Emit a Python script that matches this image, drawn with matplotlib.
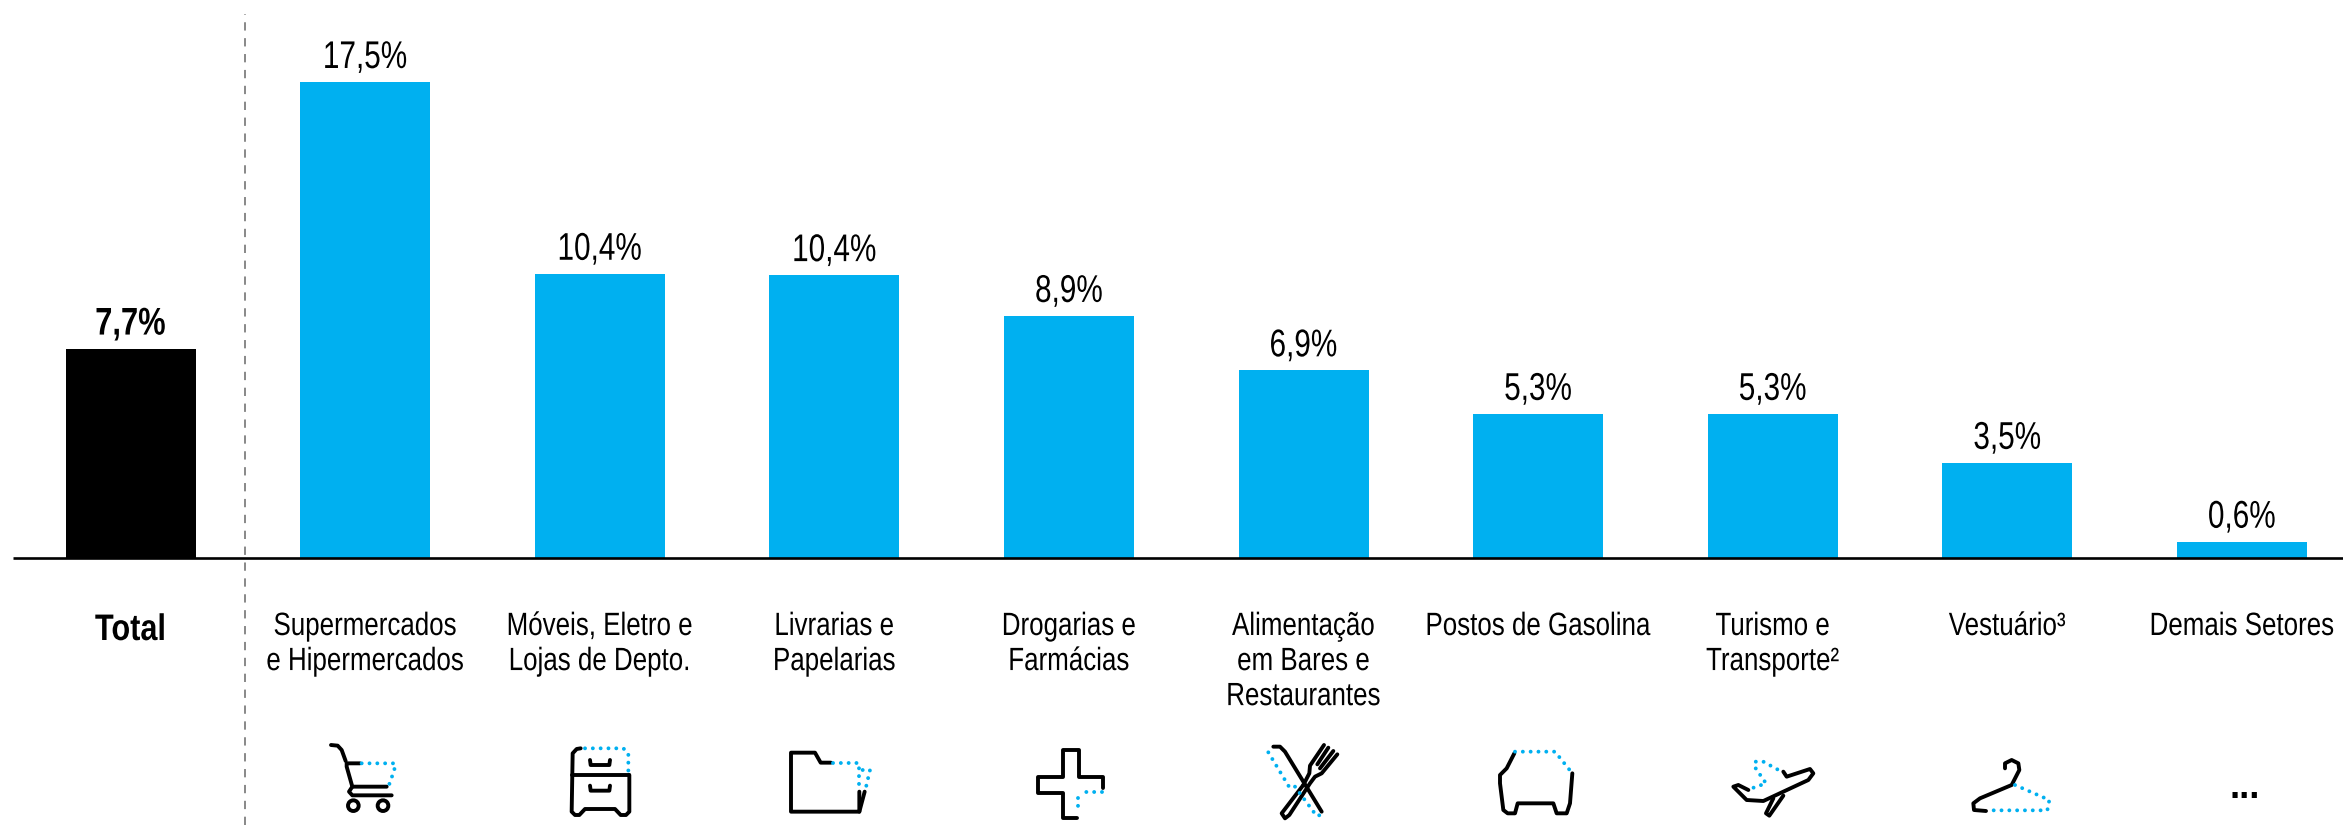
#!/usr/bin/env python3
import matplotlib
matplotlib.use("Agg")
import matplotlib.pyplot as plt
from matplotlib.patches import Circle
from matplotlib.patheffects import AbstractPathEffect
from matplotlib.transforms import Affine2D

plt.rcParams['font.family'] = ['Liberation Sans', 'DejaVu Sans']

categories = ['Total', 'Supermercados\ne Hipermercados', 'Móveis, Eletro e\nLojas de Depto.',
              'Livrarias e\nPapelarias', 'Drogarias e\nFarmácias', 'Alimentação\nem Bares e\nRestaurantes',
              'Postos de Gasolina', 'Turismo e\nTransporte²', 'Vestuário³', 'Demais Setores']
values = [7.7, 17.5, 10.45, 10.4, 8.9, 6.9, 5.3, 5.3, 3.5, 0.6]
value_labels = ['7,7%', '17,5%', '10,4%', '10,4%', '8,9%', '6,9%', '5,3%', '5,3%', '3,5%', '0,6%']

BLUE = '#00B0F0'
W, H = 2343, 825
BASE_Y = 558      # baseline, px from top
PX_PER_PCT = 27.2
X0, STEP = 130.5, 234.6


class Squeeze(AbstractPathEffect):
    # the reference text is condensed Arial; no narrow font is installed, so squeeze around the centre
    def __init__(self, cx, sx):
        super().__init__()
        self.cx, self.sx = cx, sx

    def draw_path(self, renderer, gc, tpath, affine, rgbFace=None):
        squeeze = Affine2D().translate(-self.cx, 0).scale(self.sx, 1).translate(self.cx, 0)
        renderer.draw_path(gc, tpath, affine + squeeze, rgbFace)


fig = plt.figure(figsize=(W / 100, H / 100), dpi=100, facecolor='white')
ax = fig.add_axes([0, 0, 1, 1])
ax.set_xlim(-X0 / STEP, (W - X0) / STEP)
ax.set_ylim((BASE_Y - H) / PX_PER_PCT, BASE_Y / PX_PER_PCT)
ax.axis('off')

colors = ['black'] + [BLUE] * (len(values) - 1)
ax.bar(range(len(values)), values, width=130 / STEP, color=colors, linewidth=0, zorder=2)

# baseline and the dashed divider after Total
ax.plot([(13 - X0) / STEP, (W - X0) / STEP], [0, 0], color='black', lw=1.9, zorder=3, solid_capstyle='butt')
ax.plot([(244.5 - X0) / STEP] * 2, [(BASE_Y - H) / PX_PER_PCT, (BASE_Y - 14) / PX_PER_PCT],
        color='#7f7f7f', lw=1.3, linestyle=(0, (4.6, 4.2)), zorder=1)

for i, (v, lab, cat) in enumerate(zip(values, value_labels, categories)):
    bold = 'bold' if i == 0 else 'normal'
    cx = X0 + i * STEP
    ax.annotate(lab, (i, v), xytext=(0, 14), textcoords='offset pixels', ha='center', va='baseline',
                fontsize=27.8, fontweight=bold, color='black',
                path_effects=[Squeeze(cx, 0.80 if i == 0 else 0.77)])
    ax.annotate(cat, (i, 0), xytext=(0, -55 if i == 0 else -54), textcoords='offset pixels', ha='center', va='top',
                fontsize=26.6 if i == 0 else 23.2, fontweight=bold, color='black', linespacing=1.22,
                path_effects=[Squeeze(cx, 0.83 if i == 0 else 0.805)])

ax.annotate('...', (9, 0), xytext=(3, -240), textcoords='offset pixels', ha='center', va='baseline',
            fontsize=26, fontweight='bold', color='black')

# icons, traced in px of a 3x crop starting at (x0, 735)
icons = [
    (315, [[(48, 30), (68, 32), (80, 45), (92, 78)],
           [(135, 85), (95, 85), (95, 95), (112, 155), (215, 155)],
           [(230, 181), (112, 181), (102, 170), (112, 155)]],
     [[(140, 85), (240, 85), (238, 105), (222, 150)]],
     [(115, 212, 16), (204, 212, 16)]),
    (550, [[(92, 40), (80, 42), (68, 55), (65, 230), (75, 240), (88, 240), (105, 222), (195, 222),
            (212, 240), (228, 240), (238, 230), (238, 120)],
           [(65, 120), (238, 120)],
           [(120, 75), (122, 90), (178, 90), (180, 75)],
           [(120, 152), (122, 167), (178, 167), (180, 152)]],
     [[(105, 40), (220, 40), (235, 55), (235, 108)]], []),
    (780, [[(153, 83), (122, 83), (105, 53), (33, 53), (33, 230), (238, 230), (238, 170)],
           [(238, 230), (254, 170)]],
     [[(160, 83), (238, 83), (238, 160)], [(248, 105), (270, 105), (256, 165)]], []),
    (1015, [[(185, 250), (145, 250), (145, 175), (70, 175), (70, 125), (145, 125), (145, 45), (192, 45),
             (192, 125), (265, 125), (265, 160)]],
     [[(262, 172), (198, 172)], [(190, 190), (190, 235)]], []),
    (1250, [[(70, 35), (90, 35), (105, 50), (215, 230)],
            [(160, 150), (95, 235), (105, 250), (118, 240), (180, 145), (195, 125), (215, 115), (262, 58)],
            [(160, 150), (178, 115), (180, 92), (222, 30)],
            [(235, 38), (202, 88)], [(250, 48), (210, 100)]],
     [[(55, 52), (120, 160)], [(135, 155), (200, 243), (218, 238)]], []),
    (1485, [[(88, 55), (65, 100), (45, 120), (45, 145), (55, 225), (68, 235), (90, 235), (98, 205),
             (205, 205), (215, 235), (245, 235), (255, 205), (262, 115)]],
     [[(90, 50), (210, 50), (262, 115)]], []),
    (1720, [[(190, 110), (200, 125), (270, 102), (280, 115), (265, 135), (130, 198), (80, 195),
             (40, 155), (55, 150), (85, 165)],
            [(160, 190), (138, 235), (148, 242), (190, 182)]],
     [[(172, 103), (130, 80), (105, 80), (105, 97), (138, 145), (95, 160)]], []),
    (1950, [[(165, 100), (165, 85), (185, 75), (205, 85), (208, 105), (185, 150), (90, 190), (70, 205),
             (72, 225), (108, 228)]],
     [[(195, 150), (298, 195), (292, 226), (112, 226)]], []),
]

over = fig.add_axes([0, 0, 1, 1])
over.set_xlim(0, W)
over.set_ylim(H, 0)
over.axis('off')
over.patch.set_alpha(0)


def to_px(pts, x0):
    return [x0 + p[0] / 3 for p in pts], [735 + p[1] / 3 for p in pts]


for x0, solid, dotted, wheels in icons:
    for pts in solid:
        xs, ys = to_px(pts, x0)
        over.plot(xs, ys, color='black', lw=2.8, solid_capstyle='round', solid_joinstyle='round')
    for pts in dotted:
        xs, ys = to_px(pts, x0)
        over.plot(xs, ys, color=BLUE, lw=2.8, linestyle=(0, (0.01, 2.0)), dash_capstyle='round')
    for cx, cy, r in wheels:
        over.add_patch(Circle((x0 + cx / 3, 735 + cy / 3), r / 3, fill=False, ec='black', lw=2.8))

fig.savefig('out.png', dpi=100, facecolor='white')
